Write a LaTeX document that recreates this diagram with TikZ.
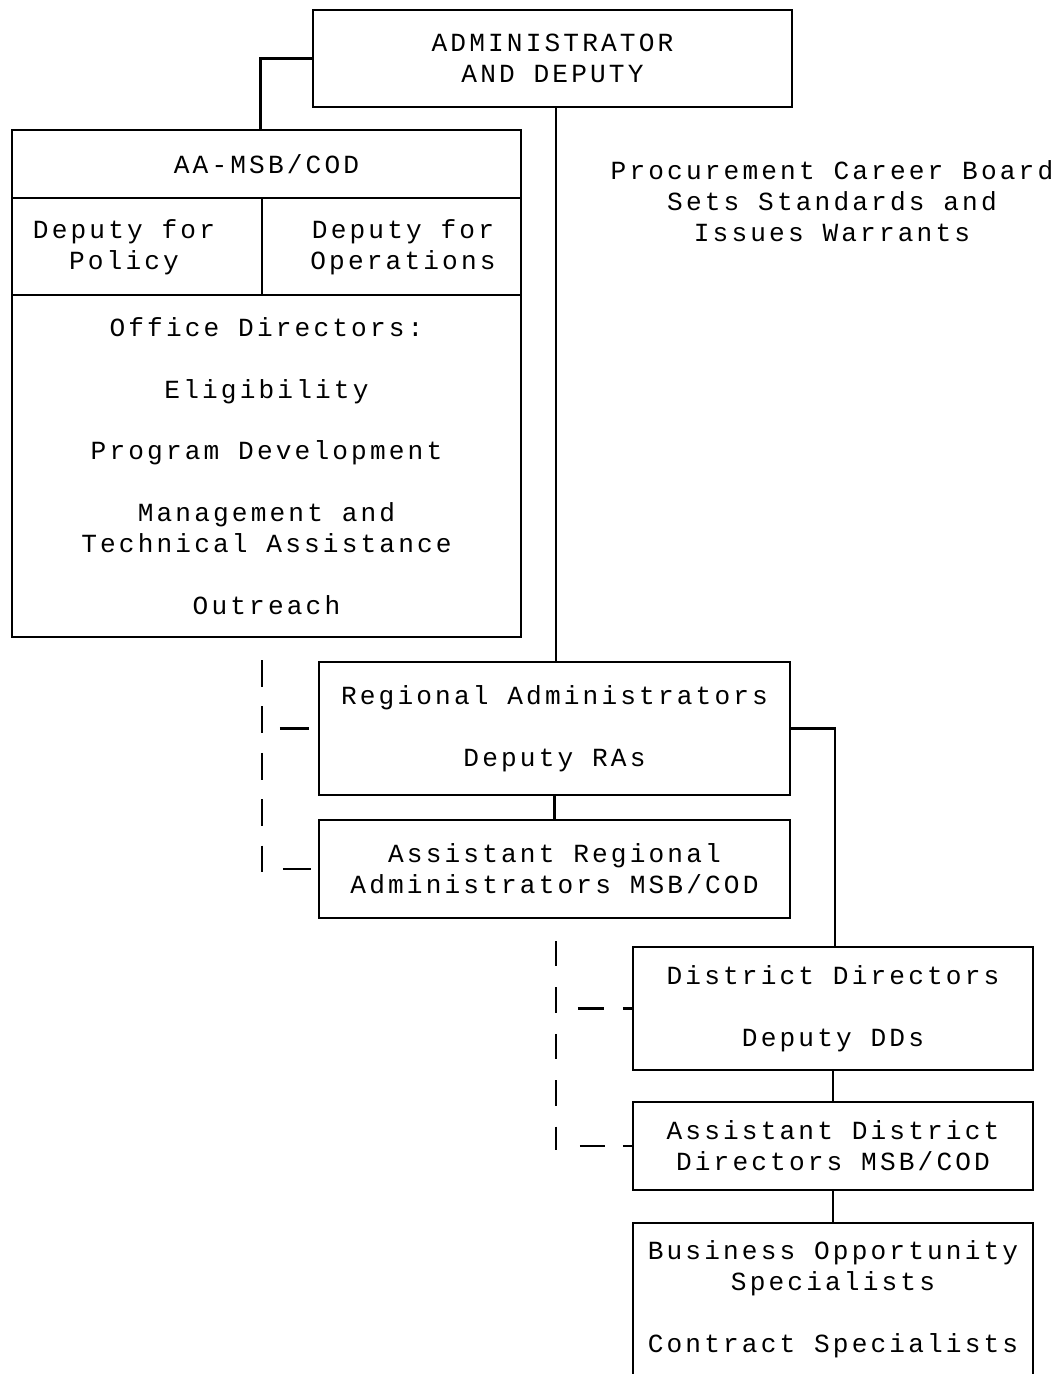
\documentclass[tikz,border=0pt]{standalone}
\usepackage{fontspec}
\newfontfamily\typer[LetterSpace=12]{Liberation Mono}
\usepackage{tikz}
\usetikzlibrary{calc,positioning}

\begin{document}
\begin{tikzpicture}[x=0.025cm,y=-0.025cm,line width=1.5pt,
  box/.style={draw,rectangle,inner sep=0pt,align=center,font=\typer\fontsize{18.6}{22}\selectfont},
  plain/.style={inner sep=0pt,align=center,font=\typer\fontsize{18.6}{22}\selectfont},
  dashline/.style={dash pattern=on 19pt off 14pt}]
\useasboundingbox (0,0) rectangle (1056,1376);
\clip (0,0) rectangle (1056,1373);

\node[box,minimum width=11.975cm,minimum height=2.425cm] (admin) at (552.5,58.5) {ADMINISTRATOR\\AND DEPUTY};

\node[box,minimum width=12.725cm,minimum height=1.7cm] (aatop) at (266.5,164) {AA-MSB/COD};
\node[box,minimum width=6.25cm,minimum height=2.425cm] (polbox) at (137,246.5) {};
\node[box,minimum width=6.475cm,minimum height=2.425cm] (opsbox) at (391.5,246.5) {};
\node[plain] (pol) at (124,247) {Deputy for\\Policy};
\node[plain] (ops) at (403,247) {Deputy for\\Operations};
\node[box,minimum width=12.725cm,minimum height=8.55cm] (dirs) at (266.5,466) {Office Directors:\\[22pt]Eligibility\\[22pt]Program Development\\[22pt]Management and\\Technical Assistance\\[22pt]Outreach};

\node[plain] (board) at (832,201) {Procurement Career Board\\Sets Standards and\\Issues Warrants};

\node[box,minimum width=11.775cm,minimum height=3.325cm] (ra) at (554.5,728.5) {Regional Administrators\\[22pt]Deputy RAs};
\node[box,minimum width=11.775cm,minimum height=2.45cm] (ara) at (554.5,869) {Assistant Regional\\Administrators MSB/COD};

\node[box,minimum width=10cm,minimum height=3.075cm] (dd) at (833,1008.5) {District Directors\\[22pt]Deputy DDs};
\node[box,minimum width=10cm,minimum height=2.2cm] (add) at (833,1146) {Assistant District\\Directors MSB/COD};
\node[box,minimum width=10cm,minimum height=3.8cm,anchor=north] (bos) at (833,1222) {Business Opportunity\\Specialists\\[22pt]Contract Specialists};

\draw (admin.west) -| ($(aatop.north)+(-6,0)$);
\draw ($(admin.south)+(3.5,0)$) -- ($(admin.south |- ra.north)+(3.5,0)$);
\draw (ra.south) -- (ara.north);
\draw (ra.east) -| ($(dd.north)+(2,0)$);
\draw (dd.south) -- (add.north);
\draw (add.south) -- (bos.north);

\coordinate (rtop) at (262,660);
\coordinate (rbot) at (262,884);
\draw[dashline] (rtop) -- (rbot);
\draw ($(ra.west)+(-38,0)$) -- ($(ra.west)+(-9,0)$);
\draw ($(ara.west)+(-35,0)$) -- ($(ara.west)+(-7,0)$);

\coordinate (dtop) at (556,941);
\coordinate (dbot) at (556,1150);
\draw[dash pattern=on 18pt off 15pt] (dtop) -- (dbot);
\draw ($(dd.west)+(-54,0)$) -- ($(dd.west)+(-28,0)$);
\draw ($(dd.west)+(-9,0)$) -- (dd.west);
\draw ($(add.west)+(-52,0)$) -- ($(add.west)+(-27,0)$);
\draw ($(add.west)+(-9,0)$) -- (add.west);

\end{tikzpicture}
\end{document}
